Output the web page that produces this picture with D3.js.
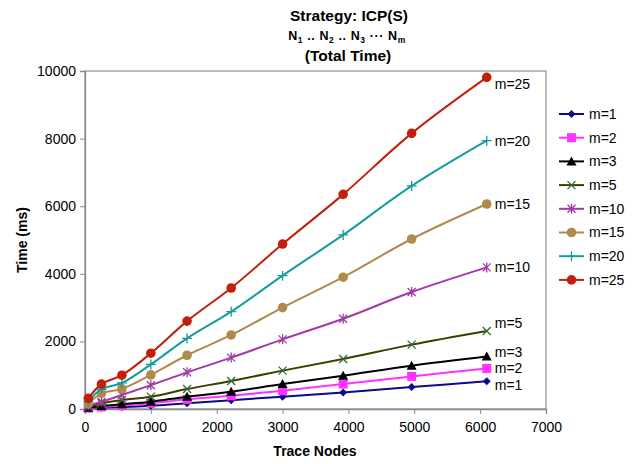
<!DOCTYPE html>
<html><head><meta charset="utf-8">
<script src="https://cdn.jsdelivr.net/npm/d3@7"></script>
<style>body{margin:0;background:#fff}svg text{font-family:"Liberation Sans",Arial,sans-serif}</style>
</head><body><svg id="c" width="635" height="464"></svg>
<script>
const traceNodes = [50, 250, 560, 1000, 1550, 2220, 3000, 3920, 4960, 6100];
const seriesNames = ["m=1","m=2","m=3","m=5","m=10","m=15","m=20","m=25"];
const m1  = [15, 35, 60, 95, 172, 262, 365, 490, 650, 820];
const m2  = [25, 60, 100, 170, 285, 390, 540, 740, 965, 1200];
const m3  = [40, 90, 140, 215, 365, 510, 740, 985, 1280, 1550];
const m5  = [60, 170, 265, 365, 590, 830, 1135, 1480, 1905, 2310];
const m10 = [100, 215, 415, 705, 1085, 1520, 2060, 2670, 3460, 4190];
const m15 = [150, 460, 595, 1010, 1590, 2190, 3000, 3900, 5030, 6065];
const m20 = [220, 585, 770, 1320, 2090, 2880, 3945, 5150, 6600, 7940];
const m25 = [315, 735, 1000, 1650, 2600, 3580, 4880, 6350, 8155, 9810];
const xTicks = [0,1000,2000,3000,4000,5000,6000,7000];
const yTicks = [0,2000,4000,6000,8000,10000];

const values = [m1,m2,m3,m5,m10,m15,m20,m25];
const lineColors = ["#0a0a8c","#ff33ff","#000000","#3d3d00","#a23aa2","#b08a4a","#159c9c","#c0200c"];
const markColors = ["#0a0a8c","#ff33ff","#000000","#2e6b2e","#a23aa2","#b08a4a","#159c9c","#c0200c"];
const markShapes = ["diamond","square","triangle","x","asterisk","circle","plus","circle"];
const labelDy = [4, 0, -5, -8, 0, 0, 0, 7];

const svg = d3.select("#c");
const L=85, R=546, T=71, B=409;
const x = d3.scaleLinear().domain([0,7000]).range([L,R]);
const y = d3.scaleLinear().domain([0,10000]).range([B,T]);

// title
const tg = svg.append("g").attr("font-weight","bold").attr("text-anchor","middle").attr("fill","#000");
tg.append("text").attr("x",349).attr("y",21).attr("font-size",15.5).text("Strategy: ICP(S)");
const t2 = tg.append("text").attr("x",347).attr("y",40).attr("font-size",12.5);
const parts = [["N",""],["1","sub"],[" .. N",""],["2","sub"],[" .. N",""],["3","sub"],[" \u00b7\u00b7\u00b7 N",""],["m","sub"]];
parts.forEach((p,k)=>{const ts=t2.append("tspan").text(p[0]).attr("xml:space","preserve");
  if(p[1]==="sub"){ts.attr("font-size",8.5).attr("dy",2.5);} else if(k>0){ts.attr("dy",-2.5);} });
t2.attr("letter-spacing",0.6);
tg.append("text").attr("x",348).attr("y",61).attr("font-size",15.5).text("(Total Time)");

// plot frame
svg.append("rect").attr("x",L).attr("y",T).attr("width",R-L).attr("height",B-T)
  .attr("fill","none").attr("stroke","#999").attr("stroke-width",1.3);

// axes
const xa = svg.append("g").attr("transform",`translate(0,${B})`)
  .call(d3.axisBottom(x).tickValues(xTicks).tickSize(5).tickPadding(8).tickFormat(d3.format("d")));
const ya = svg.append("g").attr("transform",`translate(${L},0)`)
  .call(d3.axisLeft(y).tickValues(yTicks).tickSize(5).tickPadding(4).tickFormat(d3.format("d")));
[xa,ya].forEach(a=>{a.select(".domain").attr("stroke","#888").attr("stroke-width",1.3);
  a.selectAll(".tick line").attr("stroke","#888");
  a.selectAll("text").attr("font-size",14).attr("fill","#000").attr("font-family","Liberation Sans, Arial, sans-serif");});

svg.append("text").attr("x",315).attr("y",456).attr("text-anchor","middle")
  .attr("font-weight","bold").attr("font-size",14).text("Trace Nodes");
svg.append("text").attr("transform","translate(27,240) rotate(-90)").attr("text-anchor","middle")
  .attr("font-weight","bold").attr("font-size",14).text("Time (ms)");

function marker(g, shape, color){
  switch(shape){
    case "diamond": g.append("path").attr("d","M0,-4L4,0L0,4L-4,0Z").attr("fill",color); break;
    case "square": g.append("rect").attr("x",-4.5).attr("y",-4.5).attr("width",9).attr("height",9).attr("fill",color); break;
    case "triangle": g.append("path").attr("d","M0,-5L5,4L-5,4Z").attr("fill",color); break;
    case "x": g.append("path").attr("d","M-4,-4L4,4M-4,4L4,-4").attr("stroke",color).attr("stroke-width",1.3); break;
    case "asterisk": g.append("path").attr("d","M-4,-4L4,4M-4,4L4,-4M0,-5L0,5").attr("stroke",color).attr("stroke-width",1.3); break;
    case "plus": g.append("path").attr("d","M-5,0L5,0M0,-5L0,5").attr("stroke",color).attr("stroke-width",1.3); break;
    case "circle": g.append("circle").attr("r",4.8).attr("fill",color); break;
  }
}

const line = d3.line().x(d=>x(d[0])).y(d=>y(d[1])).curve(d3.curveCatmullRom.alpha(0.5));
values.forEach((vals,i)=>{
  const pts = traceNodes.map((t,j)=>[t,vals[j]]);
  svg.append("path").datum(pts).attr("d",line).attr("fill","none")
    .attr("stroke",lineColors[i]).attr("stroke-width",2);
  pts.forEach(p=>{
    marker(svg.append("g").attr("transform",`translate(${x(p[0])},${y(p[1])})`), markShapes[i], markColors[i]);
  });
  const last = pts[pts.length-1];
  svg.append("text").attr("x",x(last[0])+8).attr("y",y(last[1])+labelDy[i]).attr("dy","0.35em")
    .attr("font-size",14).text(seriesNames[i]);
});

// legend
const lg = svg.append("g");
seriesNames.forEach((n,i)=>{
  const yy = 114 + i*23.7;
  lg.append("line").attr("x1",559).attr("x2",584).attr("y1",yy).attr("y2",yy)
    .attr("stroke",lineColors[i]).attr("stroke-width",2);
  marker(lg.append("g").attr("transform",`translate(571.5,${yy})`), markShapes[i], markColors[i]);
  lg.append("text").attr("x",589).attr("y",yy).attr("dy","0.35em").attr("font-size",14).text(n);
});
</script></body></html>
